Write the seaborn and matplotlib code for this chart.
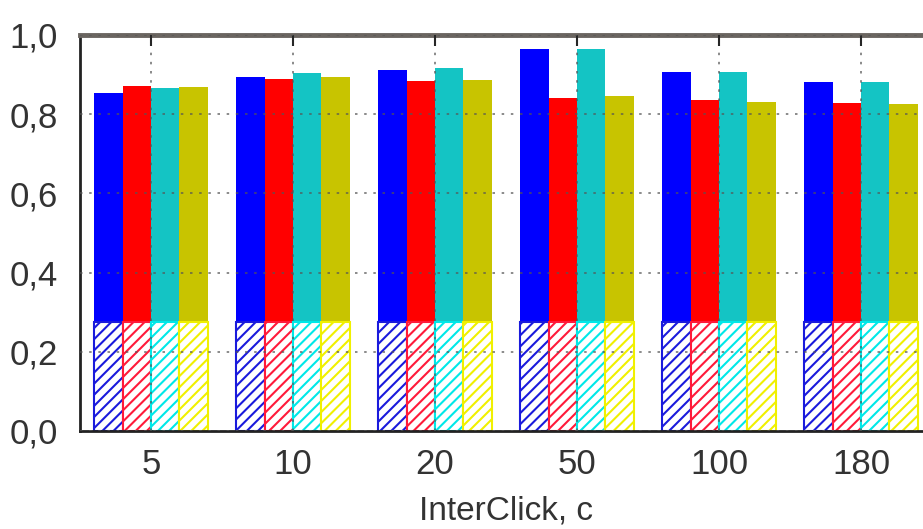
import pandas as pd
import seaborn as sns
import matplotlib.pyplot as plt
from matplotlib.ticker import FuncFormatter

# InterClick values (seconds) and the four series
intervals = ["5", "10", "20", "50", "100", "180"]
series = ["s1", "s2", "s3", "s4"]
s1 = [0.853, 0.894, 0.912, 0.965, 0.907, 0.882]
s2 = [0.871, 0.889, 0.884, 0.841, 0.836, 0.828]
s3 = [0.866, 0.903, 0.917, 0.964, 0.907, 0.882]
s4 = [0.869, 0.893, 0.886, 0.846, 0.831, 0.826]
# hatched lower part of every bar
base = [0.275, 0.275, 0.275, 0.275, 0.275, 0.275]

solid_colors = ["#0000ff", "#ff0000", "#14c4c4", "#c8c400"]
hatch_colors = ["#1a1adc", "#ff1a3a", "#00e8e8", "#f0f000"]

rows = []
for name, vals in zip(series, [s1, s2, s3, s4]):
    for iv, v, b in zip(intervals, vals, base):
        rows.append({"interval": iv, "series": name, "value": v, "base": b})
df = pd.DataFrame(rows)

sns.set_style("white")
plt.rcParams["font.family"] = ["Liberation Sans", "DejaVu Sans"]
plt.rcParams["hatch.linewidth"] = 1.5

fig = plt.figure(figsize=(9.23, 5.29), dpi=100)
ax = fig.add_axes([80 / 923, 98 / 529, 852 / 923, 396 / 529])

sns.barplot(data=df, x="interval", y="value", hue="series", order=intervals,
            hue_order=series, palette=solid_colors, width=0.8, saturation=1,
            linewidth=0, errorbar=None, legend=False, ax=ax)
n_solid = len(ax.patches)

sns.barplot(data=df, x="interval", y="base", hue="series", order=intervals,
            hue_order=series, palette=hatch_colors, width=0.8, saturation=1,
            errorbar=None, legend=False, ax=ax)
for i, p in enumerate(ax.patches[n_solid:]):
    col = hatch_colors[i // len(intervals)]
    p.set_facecolor("white")
    p.set_edgecolor(col)
    p.set_hatch("///")
    p.set_linewidth(1.5)

ax.set_xlim(-0.5, 5.5)
ax.set_ylim(0, 1.0)
ax.set_yticks([0, 0.2, 0.4, 0.6, 0.8, 1.0])
ax.yaxis.set_major_formatter(FuncFormatter(lambda v, _: f"{v:.1f}".replace(".", ",")))

ax.set_axisbelow(False)
ax.grid(True, linestyle=(0, (1.5, 4)), color="#555555", linewidth=1.2, alpha=0.8)

ax.tick_params(axis="both", direction="in", length=8, width=1.5, labelsize=25,
               labelcolor="#333333", top=True)
ax.tick_params(axis="y", pad=16)
ax.tick_params(axis="x", pad=12)

for side in ["left", "bottom"]:
    ax.spines[side].set_color("#222222")
    ax.spines[side].set_linewidth(2)
ax.spines["top"].set_color("#6a6560")
ax.spines["top"].set_linewidth(3.5)
ax.spines["right"].set_visible(False)

ax.set_xlabel("InterClick, c", fontsize=24, color="#333333", labelpad=11)
ax.set_ylabel("")

fig.savefig("out.png", dpi=100)
